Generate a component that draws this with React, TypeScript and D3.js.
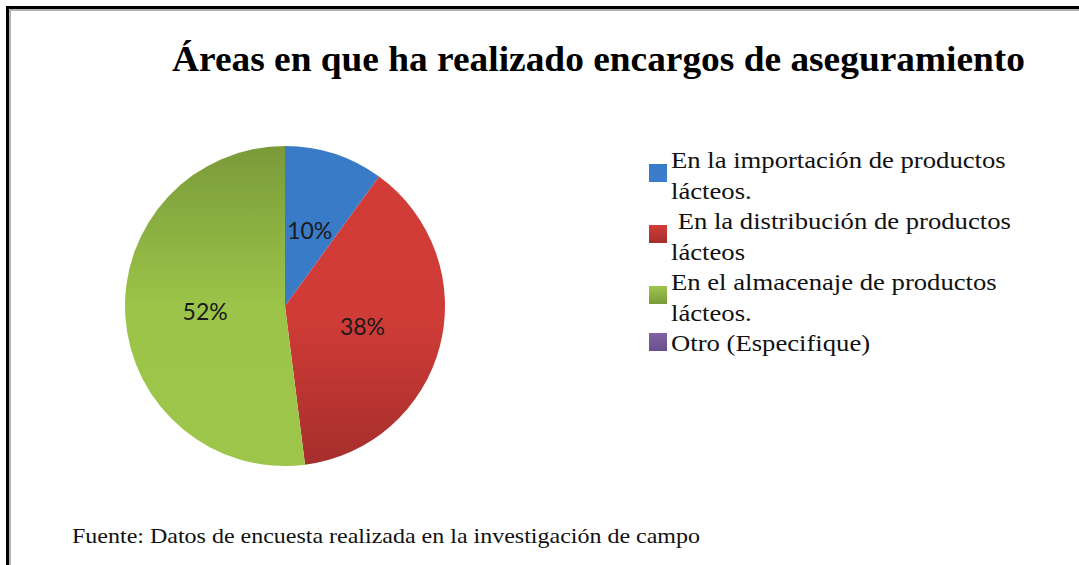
import React from "react";
import * as d3 from "d3";

const categories = [
  "En la importación de productos lácteos.",
  " En la distribución de productos lácteos",
  "En el almacenaje de productos lácteos.",
  "Otro (Especifique)",
];
const legendLines = [
  ["En la importación de productos", "lácteos."],
  ["\u00a0En la distribución de productos", "lácteos"],
  ["En el almacenaje de productos", "lácteos."],
  ["Otro (Especifique)"],
];
const values = [10, 38, 52, 0];
const labels = ["10%", "38%", "52%", ""];
const colorsTop = ["#3a7bc8", "#d33c37", "#7a9a39", "#8064a2"];
const colorsBottom = ["#3b7dcc", "#a52e2c", "#9dc64b", "#6a4f8e"];
const title = "Áreas en que ha realizado encargos de aseguramiento";
const source = "Fuente: Datos de encuesta realizada en la investigación de campo";

const SERIF = "Liberation Serif";

export default function App() {
  const W = 1079, H = 565;
  const cx = 285, cy = 306, r = 160;
  const pie = d3.pie<number>().sort(null).value((d) => d);
  const arcs = pie(values);
  const arc = d3.arc<d3.PieArcDatum<number>>().innerRadius(0).outerRadius(r);
  const labelArc = d3.arc<d3.PieArcDatum<number>>().innerRadius(r / 2).outerRadius(r / 2);

  const legendY = d3.scaleLinear().domain([0, 1]).range([168, 198.5]);
  let lineIdx = 0;
  const legendItems = legendLines.map((lines, i) => {
    const start = lineIdx;
    lineIdx += lines.length;
    return { lines, start, i };
  });

  const midStops = ["#3a7bc8", "#cf3b37", "#9bc449", "#8064a2"];
  const midOff = [0.5, 0.55, 0.5, 0.5];

  return (
    <svg width={W} height={H} style={{ position: "absolute", left: 0, top: 0, background: "#fff" }}>
      <defs>
        {colorsTop.map((c, i) => (
          <linearGradient key={i} id={`g${i}`} gradientUnits="userSpaceOnUse" x1="0" y1={-r} x2="0" y2={r}>
            <stop offset="0" stopColor={c} />
            <stop offset={midOff[i]} stopColor={midStops[i]} />
            <stop offset="1" stopColor={colorsBottom[i]} />
          </linearGradient>
        ))}
        {colorsTop.map((c, i) => (
          <linearGradient key={"l" + i} id={`lg${i}`} x1="0" y1="0" x2="0" y2="1">
            <stop offset="0" stopColor={i === 2 ? "#9dc64b" : c} />
            <stop offset="1" stopColor={i === 2 ? "#7a9a39" : colorsBottom[i]} />
          </linearGradient>
        ))}
      </defs>
      <rect x={0} y={0} width={W} height={H} fill="#fff" />
      <path d={`M7.5,${H} L7.5,7.5 L${W},7.5`} fill="none" stroke="#000" strokeWidth={3} />
      <path d={`M10,${H} L10,10 L${W},10`} fill="none" stroke="#999" strokeWidth={1.5} />

      <text x={172} y={71} textLength={853} lengthAdjust="spacingAndGlyphs" fontFamily={SERIF} fontWeight="bold" fontSize={36} fill="#000">
        {title}
      </text>

      <g transform={`translate(${cx},${cy})`}>
        {arcs.map((a, i) =>
          a.value > 0 ? <path key={i} d={arc(a) || ""} fill={`url(#g${i})`} /> : null
        )}
        {arcs.map((a, i) => {
          if (!labels[i]) return null;
          const [lx, ly] = labelArc.centroid(a);
          return (
            <text key={"t" + i} x={lx} y={ly} textAnchor="middle" dominantBaseline="central" fontFamily="Lato" fontSize={23} fill="#1a1a1a">
              {labels[i]}
            </text>
          );
        })}
      </g>

      <g>
        {legendItems.map(({ lines, start, i }) => {
          const yTop = legendY(start);
          const sqCenter = lines.length === 1 ? yTop - 9 : yTop + 5;
          return (
            <g key={i}>
              <rect x={649} y={sqCenter - 9} width={18} height={18} fill={`url(#lg${i})`} />
              {lines.map((ln, j) => (
                <text key={j} transform={`translate(671,${legendY(start + j)}) scale(1.16,1)`} x={0} y={0} fontFamily={SERIF} fontSize={23} fill="#111">
                  {ln}
                </text>
              ))}
            </g>
          );
        })}
      </g>

      <text x={72} y={543} textLength={628} lengthAdjust="spacingAndGlyphs" fontFamily={SERIF} fontSize={21} fill="#111">
        {source}
      </text>
    </svg>
  );
}
